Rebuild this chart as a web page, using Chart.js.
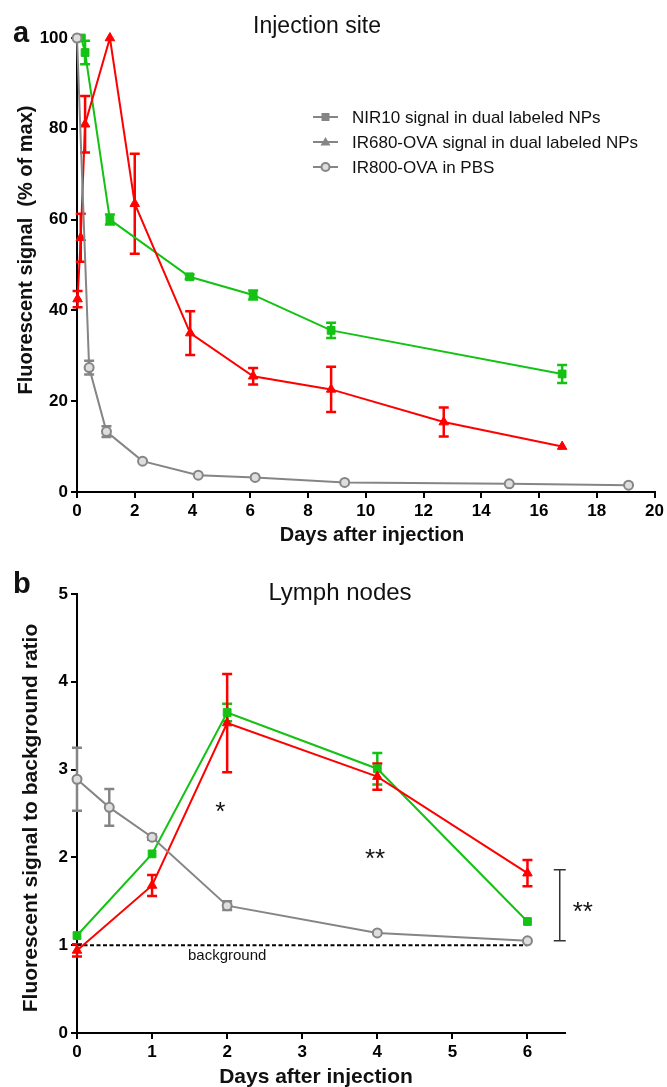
<!DOCTYPE html>
<html>
<head>
<meta charset="utf-8">
<script src="https://cdn.jsdelivr.net/npm/chart.js@4.4.1/dist/chart.umd.min.js"></script>
<style>
  html, body { margin: 0; padding: 0; background: #fff; }
  canvas { display: block; }
</style>
</head>
<body>
<canvas id="siteChart" width="667" height="556"></canvas>
<canvas id="nodeChart" width="667" height="531"></canvas>
<script>
// ---- panel a: injection site (% of max) ----
const nirDays = [0.15, 0.28, 1.14, 3.9, 6.1, 8.8, 16.8];
const nirSignal = [100, 96.8, 60, 47.4, 43.4, 35.6, 26];
const nirError = [0, 2.6, 1.1, 0.5, 1, 1.7, 2];

const ovaDays = [0.02, 0.13, 0.28, 1.14, 2.0, 3.92, 6.1, 8.8, 12.7, 16.8];
const ovaSignal = [42.5, 56, 81, 100, 63.5, 35, 25.5, 22.6, 15.4, 10];
const ovaError = [1.8, 5.3, 6.2, 0, 11, 4.8, 1.8, 5, 3.2, 0];

const pbsDays = [0, 0.42, 1.02, 2.27, 4.2, 6.17, 9.27, 14.97, 19.1];
const pbsSignal = [100, 27.4, 13.3, 6.8, 3.7, 3.2, 2.1, 1.8, 1.5];
const pbsError = [0, 1.5, 1.2, 0, 0, 0, 0, 0, 0];

const legendLabels = ['NIR10 signal in dual labeled NPs', 'IR680-OVA signal in dual labeled NPs', 'IR800-OVA in PBS'];

// ---- panel b: lymph nodes (signal / background) ----
const lnDays = [0, 1, 2, 4, 6];
const lnNirRatio = [1.11, 2.04, 3.65, 3.01, 1.27];
const lnNirError = [0, 0, 0.1, 0.18, 0];
const lnOvaRatio = [0.94, 1.68, 3.53, 2.92, 1.82];
const lnOvaError = [0.07, 0.12, 0.56, 0.15, 0.15];
const lnPbsDays = [0, 0.43, 1, 2, 4, 6];
const lnPbsRatio = [2.89, 2.57, 2.23, 1.45, 1.14, 1.05];
const lnPbsError = [0.36, 0.21, 0.03, 0.05, 0, 0];
const backgroundDays = [0, 6];
const backgroundLevel = [1, 1];

const FONT = '"Liberation Sans", Arial, sans-serif';
const GREEN = '#14c214';
const RED = '#ff0000';
const GRAY = '#858585';

const toPoints = (xs, ys) => xs.map((x, i) => ({ x: x, y: ys[i] }));

function series(label, xs, ys, errs, color, style, order) {
  return {
    label: label,
    data: toPoints(xs, ys),
    errors: errs,
    order: order,
    borderColor: color,
    borderWidth: 2,
    backgroundColor: style === 'circle' ? '#dedede' : color,
    pointBorderColor: color,
    pointBorderWidth: style === 'circle' ? 2 : 1,
    pointStyle: style,
    pointRadius: style === 'circle' ? 4.5 : 5.5,
    tension: 0,
    clip: false
  };
}

// error bars drawn under the markers, through the chart scales
const errorBars = {
  id: 'errorBars',
  beforeDatasetsDraw(chart) {
    const { ctx, scales: { x, y } } = chart;
    chart.data.datasets.forEach(ds => {
      if (!ds.errors) return;
      ctx.save();
      ctx.strokeStyle = ds.borderColor;
      ctx.lineWidth = 2.5;
      ds.data.forEach((p, j) => {
        const e = ds.errors[j];
        if (!e) return;
        const px = x.getPixelForValue(p.x);
        const top = y.getPixelForValue(p.y + e);
        const bot = y.getPixelForValue(p.y - e);
        ctx.beginPath();
        ctx.moveTo(px, top); ctx.lineTo(px, bot);
        ctx.moveTo(px - 5, top); ctx.lineTo(px + 5, top);
        ctx.moveTo(px - 5, bot); ctx.lineTo(px + 5, bot);
        ctx.stroke();
      });
      ctx.restore();
    });
  }
};

function text(ctx, str, x, y, font, align, rotate, base) {
  ctx.save();
  ctx.font = font;
  ctx.fillStyle = '#111';
  ctx.textAlign = align || 'center';
  ctx.textBaseline = base || 'alphabetic';
  ctx.translate(x, y);
  if (rotate) ctx.rotate(-Math.PI / 2);
  ctx.fillText(str, 0, 0);
  ctx.restore();
}

function stepTicks(min, max, step) {
  const out = [];
  for (let v = min; v <= max + 1e-9; v += step) out.push({ value: Math.round(v * 1000) / 1000 });
  return out;
}

function axes(xMin, xMax, xStep, xLast, yMin, yMax, yStep, xHeight) {
  const tickFont = { family: FONT, size: 17, weight: 'bold' };
  const common = {
    type: 'linear',
    border: { color: '#000', width: 2 },
    grid: { drawOnChartArea: false, color: '#000', lineWidth: 2, tickLength: 6 },
  };
  return {
    x: Object.assign({}, common, {
      min: xMin, max: xMax,
      ticks: { color: '#000', font: tickFont, padding: 3, maxRotation: 0, autoSkip: false },
      afterBuildTicks: s => { s.ticks = stepTicks(xMin, xLast, xStep); },
      afterFit: s => { s.height = xHeight; }
    }),
    y: Object.assign({}, common, {
      min: yMin, max: yMax,
      ticks: { color: '#000', font: tickFont, padding: 3 },
      afterBuildTicks: s => { s.ticks = stepTicks(yMin, yMax, yStep); },
      afterFit: s => { s.width = 77; }
    })
  };
}

// ---------- chart a ----------
const siteLabels = {
  id: 'siteLabels',
  afterDraw(chart) {
    const ctx = chart.ctx;
    text(ctx, 'a', 13, 42, 'bold 29px ' + FONT, 'left');
    text(ctx, 'Injection site', 317, 33, '23px ' + FONT);
    text(ctx, 'Fluorescent signal  (% of max)', 26, 250, 'bold 20px ' + FONT, 'center', true, 'middle');
    text(ctx, 'Days after injection', 372, 541, 'bold 20px ' + FONT);

    // legend
    const styles = ['rect', 'triangle', 'circle'];
    legendLabels.forEach((lab, i) => {
      const cy = 117 + i * 25;
      ctx.save();
      ctx.strokeStyle = GRAY;
      ctx.fillStyle = GRAY;
      ctx.lineWidth = 2;
      ctx.beginPath();
      ctx.moveTo(313, cy); ctx.lineTo(338, cy);
      ctx.stroke();
      ctx.beginPath();
      if (styles[i] === 'rect') {
        ctx.fillRect(321.5, cy - 4, 8, 8);
      } else if (styles[i] === 'triangle') {
        ctx.moveTo(325.5, cy - 5); ctx.lineTo(330.5, cy + 3.5); ctx.lineTo(320.5, cy + 3.5);
        ctx.closePath(); ctx.fill();
      } else {
        ctx.fillStyle = '#dedede';
        ctx.arc(325.5, cy, 4, 0, Math.PI * 2);
        ctx.fill(); ctx.stroke();
      }
      ctx.restore();
      text(ctx, lab, 352, cy + 1, '17px ' + FONT, 'left', false, 'middle');
    });
  }
};

new Chart(document.getElementById('siteChart'), {
  type: 'line',
  data: {
    datasets: [
      series(legendLabels[0], nirDays, nirSignal, nirError, GREEN, 'rect', 2),
      series(legendLabels[1], ovaDays, ovaSignal, ovaError, RED, 'triangle', 1),
      series(legendLabels[2], pbsDays, pbsSignal, pbsError, GRAY, 'circle', 0)
    ]
  },
  options: {
    responsive: false,
    animation: false,
    layout: { padding: { left: 0, right: 10, top: 38, bottom: 0 } },
    plugins: { legend: { display: false }, tooltip: { enabled: false } },
    scales: axes(0, 20, 2, 20, 0, 100, 20, 64)
  },
  plugins: [errorBars, siteLabels]
});

// ---------- chart b ----------
const nodeLabels = {
  id: 'nodeLabels',
  afterDraw(chart) {
    const { ctx, scales: { x, y } } = chart;
    text(ctx, 'b', 13, 37, 'bold 29px ' + FONT, 'left');
    text(ctx, 'Lymph nodes', 340, 44, '24px ' + FONT);
    text(ctx, 'Fluorescent signal to background ratio', 31, 262, 'bold 21px ' + FONT, 'center', true, 'middle');
    text(ctx, 'Days after injection', 316, 527, 'bold 21px ' + FONT);
    text(ctx, 'background', x.getPixelForValue(2), y.getPixelForValue(1) + 15, '15px ' + FONT);

    // significance marks
    text(ctx, '*', x.getPixelForValue(1.91), y.getPixelForValue(2.6) + 15, '26px ' + FONT);
    text(ctx, '**', x.getPixelForValue(3.97), y.getPixelForValue(2.06) + 15, '26px ' + FONT);
    const bx = x.getPixelForValue(6.43);
    const bTop = y.getPixelForValue(1.86), bBot = y.getPixelForValue(1.05);
    ctx.save();
    ctx.strokeStyle = '#333';
    ctx.lineWidth = 1.5;
    ctx.beginPath();
    ctx.moveTo(bx, bTop); ctx.lineTo(bx, bBot);
    ctx.moveTo(bx - 6, bTop); ctx.lineTo(bx + 6, bTop);
    ctx.moveTo(bx - 6, bBot); ctx.lineTo(bx + 6, bBot);
    ctx.stroke();
    ctx.restore();
    text(ctx, '**', bx + 23, (bTop + bBot) / 2 + 15, '26px ' + FONT);
  }
};

new Chart(document.getElementById('nodeChart'), {
  type: 'line',
  data: {
    datasets: [
      series(legendLabels[0], lnDays, lnNirRatio, lnNirError, GREEN, 'rect', 2),
      series(legendLabels[1], lnDays, lnOvaRatio, lnOvaError, RED, 'triangle', 1),
      series(legendLabels[2], lnPbsDays, lnPbsRatio, lnPbsError, GRAY, 'circle', 0),
      {
        label: 'background',
        data: toPoints(backgroundDays, backgroundLevel),
        borderColor: '#000',
        borderWidth: 2,
        borderDash: [4, 2.5],
        pointRadius: 0,
        order: 3
      }
    ]
  },
  options: {
    responsive: false,
    animation: false,
    layout: { padding: { left: 0, right: 102, top: 38, bottom: 0 } },
    plugins: { legend: { display: false }, tooltip: { enabled: false } },
    scales: axes(0, 6.5, 1, 6, 0, 5, 1, 54)
  },
  plugins: [errorBars, nodeLabels]
});
</script>
</body>
</html>
